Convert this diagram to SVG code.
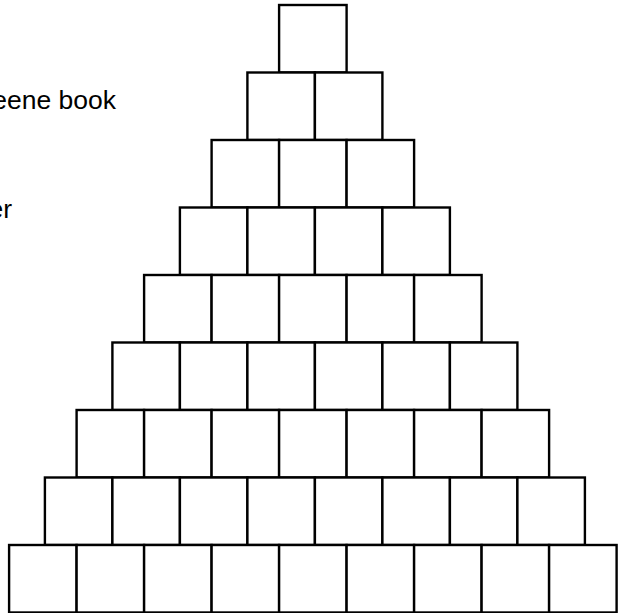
<svg xmlns="http://www.w3.org/2000/svg" width="618" height="613" viewBox="0 0 618 613">
<style>
.b{fill:#fff;stroke:#000;stroke-width:2.4}
.t{font-family:"Liberation Sans",Arial,sans-serif;font-size:26.5px;fill:#000}
</style>
<rect width="618" height="613" fill="#fff"/>
<text class="t" x="116" y="108.5" text-anchor="end">eene book</text>
<text class="t" x="12" y="218" text-anchor="end">er</text>
<g id="connectors"/>
<g id="row0"><g id="b0_0"><rect class="b" x="279.1" y="5" width="67.5" height="67.5"/></g></g>
<g id="row1">
<g id="b1_0"><rect class="b" x="247.4" y="72.5" width="67.5" height="67.5"/></g>
<g id="b1_1"><rect class="b" x="314.9" y="72.5" width="67.5" height="67.5"/></g>
</g>
<g id="row2">
<g id="b2_0"><rect class="b" x="211.6" y="140" width="67.5" height="67.5"/></g>
<g id="b2_1"><rect class="b" x="279.1" y="140" width="67.5" height="67.5"/></g>
<g id="b2_2"><rect class="b" x="346.6" y="140" width="67.5" height="67.5"/></g>
</g>
<g id="row3">
<g id="b3_0"><rect class="b" x="179.9" y="207.5" width="67.5" height="67.5"/></g>
<g id="b3_1"><rect class="b" x="247.4" y="207.5" width="67.5" height="67.5"/></g>
<g id="b3_2"><rect class="b" x="314.9" y="207.5" width="67.5" height="67.5"/></g>
<g id="b3_3"><rect class="b" x="382.4" y="207.5" width="67.5" height="67.5"/></g>
</g>
<g id="row4">
<g id="b4_0"><rect class="b" x="144.1" y="275" width="67.5" height="67.5"/></g>
<g id="b4_1"><rect class="b" x="211.6" y="275" width="67.5" height="67.5"/></g>
<g id="b4_2"><rect class="b" x="279.1" y="275" width="67.5" height="67.5"/></g>
<g id="b4_3"><rect class="b" x="346.6" y="275" width="67.5" height="67.5"/></g>
<g id="b4_4"><rect class="b" x="414.1" y="275" width="67.5" height="67.5"/></g>
</g>
<g id="row5">
<g id="b5_0"><rect class="b" x="112.4" y="342.5" width="67.5" height="67.5"/></g>
<g id="b5_1"><rect class="b" x="179.9" y="342.5" width="67.5" height="67.5"/></g>
<g id="b5_2"><rect class="b" x="247.4" y="342.5" width="67.5" height="67.5"/></g>
<g id="b5_3"><rect class="b" x="314.9" y="342.5" width="67.5" height="67.5"/></g>
<g id="b5_4"><rect class="b" x="382.4" y="342.5" width="67.5" height="67.5"/></g>
<g id="b5_5"><rect class="b" x="449.9" y="342.5" width="67.5" height="67.5"/></g>
</g>
<g id="row6">
<g id="b6_0"><rect class="b" x="76.6" y="410" width="67.5" height="67.5"/></g>
<g id="b6_1"><rect class="b" x="144.1" y="410" width="67.5" height="67.5"/></g>
<g id="b6_2"><rect class="b" x="211.6" y="410" width="67.5" height="67.5"/></g>
<g id="b6_3"><rect class="b" x="279.1" y="410" width="67.5" height="67.5"/></g>
<g id="b6_4"><rect class="b" x="346.6" y="410" width="67.5" height="67.5"/></g>
<g id="b6_5"><rect class="b" x="414.1" y="410" width="67.5" height="67.5"/></g>
<g id="b6_6"><rect class="b" x="481.6" y="410" width="67.5" height="67.5"/></g>
</g>
<g id="row7">
<g id="b7_0"><rect class="b" x="44.9" y="477.5" width="67.5" height="67.5"/></g>
<g id="b7_1"><rect class="b" x="112.4" y="477.5" width="67.5" height="67.5"/></g>
<g id="b7_2"><rect class="b" x="179.9" y="477.5" width="67.5" height="67.5"/></g>
<g id="b7_3"><rect class="b" x="247.4" y="477.5" width="67.5" height="67.5"/></g>
<g id="b7_4"><rect class="b" x="314.9" y="477.5" width="67.5" height="67.5"/></g>
<g id="b7_5"><rect class="b" x="382.4" y="477.5" width="67.5" height="67.5"/></g>
<g id="b7_6"><rect class="b" x="449.9" y="477.5" width="67.5" height="67.5"/></g>
<g id="b7_7"><rect class="b" x="517.4" y="477.5" width="67.5" height="67.5"/></g>
</g>
<g id="row8">
<g id="b8_0"><rect class="b" x="9.1" y="545" width="67.5" height="67.5"/></g>
<g id="b8_1"><rect class="b" x="76.6" y="545" width="67.5" height="67.5"/></g>
<g id="b8_2"><rect class="b" x="144.1" y="545" width="67.5" height="67.5"/></g>
<g id="b8_3"><rect class="b" x="211.6" y="545" width="67.5" height="67.5"/></g>
<g id="b8_4"><rect class="b" x="279.1" y="545" width="67.5" height="67.5"/></g>
<g id="b8_5"><rect class="b" x="346.6" y="545" width="67.5" height="67.5"/></g>
<g id="b8_6"><rect class="b" x="414.1" y="545" width="67.5" height="67.5"/></g>
<g id="b8_7"><rect class="b" x="481.6" y="545" width="67.5" height="67.5"/></g>
<g id="b8_8"><rect class="b" x="549.1" y="545" width="67.5" height="67.5"/></g>
</g>
</svg>
